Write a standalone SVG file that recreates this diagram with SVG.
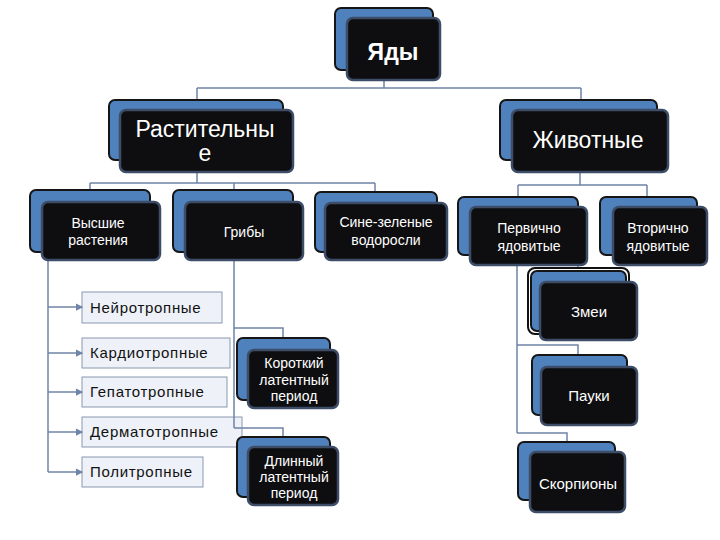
<svg xmlns="http://www.w3.org/2000/svg" width="720" height="540" viewBox="0 0 720 540">
<defs>
<marker id="arr" viewBox="0 0 6 6" refX="5" refY="3" markerWidth="5" markerHeight="5" orient="auto">
<path d="M0,0 L6,3 L0,6 z" fill="#6f84a6"/>
</marker>
<style>
.back{fill:#4f81bd;stroke:#151515;stroke-width:2}
.front{fill:#0e0e10;stroke:#3d4d68;stroke-width:2.5}
.t{fill:#ffffff;font-family:"Liberation Sans",Arial,sans-serif;text-anchor:middle}
.lb{fill:#eef2f8;stroke:#8a98b0;stroke-width:1}
.lt{fill:#111111;font-family:"Liberation Sans",Arial,sans-serif;font-size:15px;letter-spacing:0.7px}
.c{fill:none;stroke:#6f84a6;stroke-width:1.5}
</style>
</defs>
<rect width="720" height="540" fill="#ffffff"/>
<g id="n-neiro">
<rect class="lb" x="82" y="292" width="140" height="31"/>
<text class="lt" x="90" y="313">Нейротропные</text>
</g>
<g id="n-kardio">
<rect class="lb" x="82" y="338" width="148" height="30"/>
<text class="lt" x="90" y="358">Кардиотропные</text>
</g>
<g id="n-gepato">
<rect class="lb" x="82" y="377" width="145" height="30"/>
<text class="lt" x="90" y="397">Гепатотропные</text>
</g>
<g id="n-dermato">
<rect class="lb" x="82" y="417" width="160" height="30"/>
<text class="lt" x="90" y="437">Дерматотропные</text>
</g>
<g id="n-poli">
<rect class="lb" x="82" y="457" width="121" height="30"/>
<text class="lt" x="90" y="477">Политропные</text>
</g>
<g id="connectors">
<path class="c" d="M384,80 V88 M197,88 H581 M197,88 V100 M581,88 V100"/>
<path class="c" d="M197,172 V183 M90,183 H375 M90,183 V190 M234,183 V190 M375,183 V192"/>
<path class="c" d="M580,172 V185 M518,185 H647 M518,185 V197 M647,185 V197"/>
<path class="c" d="M48,260 V472"/>
<path class="c" marker-end="url(#arr)" d="M48,307 H82"/>
<path class="c" marker-end="url(#arr)" d="M48,353 H82"/>
<path class="c" marker-end="url(#arr)" d="M48,392 H82"/>
<path class="c" marker-end="url(#arr)" d="M48,432 H82"/>
<path class="c" marker-end="url(#arr)" d="M48,472 H82"/>
<path class="c" d="M234,260 V428 M234,328 H283 V338 M234,428 H283 V437"/>
<path class="c" d="M517,255 V433 M517,258 H578 V270 M517,345 H578 V355 M517,433 H567 V442"/>
</g>
<g id="n-yady">
<rect class="back" x="335" y="8" width="98" height="62" rx="6"/>
<rect class="front" x="347" y="18" width="93" height="62" rx="6"/>
<text class="t" x="393" y="60" font-size="23" font-weight="bold">Яды</text>
</g>
<g id="n-rast">
<rect class="back" x="109" y="100" width="174" height="60" rx="6"/>
<rect class="front" x="120" y="110" width="173" height="62" rx="6"/>
<text class="t" x="205" y="137" font-size="23">Растительны</text>
<text class="t" x="205" y="161" font-size="23">е</text>
</g>
<g id="n-zhiv">
<rect class="back" x="500" y="100" width="157" height="60" rx="6"/>
<rect class="front" x="512" y="110" width="156" height="62" rx="6"/>
<text class="t" x="588" y="148" font-size="23">Животные</text>
</g>
<g id="n-vysshie">
<rect class="back" x="30" y="190" width="120" height="62" rx="6"/>
<rect class="front" x="42" y="202" width="118" height="58" rx="6"/>
<text class="t" x="98" y="228" font-size="14">Высшие</text>
<text class="t" x="98" y="245" font-size="14">растения</text>
</g>
<g id="n-griby">
<rect class="back" x="173" y="190" width="120" height="62" rx="6"/>
<rect class="front" x="185" y="202" width="118" height="58" rx="6"/>
<text class="t" x="244" y="237" font-size="14">Грибы</text>
</g>
<g id="n-sine">
<rect class="back" x="315" y="192" width="122" height="60" rx="6"/>
<rect class="front" x="325" y="203" width="122" height="57" rx="6"/>
<text class="t" x="386" y="227" font-size="14">Сине-зеленые</text>
<text class="t" x="386" y="245" font-size="14">водоросли</text>
</g>
<g id="n-perv">
<rect class="back" x="458" y="197" width="120" height="58" rx="6"/>
<rect class="front" x="470" y="207" width="117" height="58" rx="6"/>
<text class="t" x="529" y="233" font-size="14">Первично</text>
<text class="t" x="529" y="251" font-size="14">ядовитые</text>
</g>
<g id="n-vtor">
<rect class="back" x="600" y="197" width="97" height="58" rx="6"/>
<rect class="front" x="613" y="207" width="94" height="58" rx="6"/>
<text class="t" x="658" y="233" font-size="14">Вторично</text>
<text class="t" x="658" y="251" font-size="14">ядовитые</text>
</g>
<g id="n-korot">
<rect class="back" x="237" y="338" width="93" height="62" rx="6"/>
<rect class="front" x="248" y="350" width="90" height="58" rx="6"/>
<text class="t" x="294" y="368" font-size="14">Короткий</text>
<text class="t" x="294" y="385" font-size="14">латентный</text>
<text class="t" x="294" y="401" font-size="14">период</text>
</g>
<g id="n-dlin">
<rect class="back" x="237" y="437" width="93" height="60" rx="6"/>
<rect class="front" x="248" y="447" width="90" height="58" rx="6"/>
<text class="t" x="294" y="466" font-size="14">Длинный</text>
<text class="t" x="294" y="482" font-size="14">латентный</text>
<text class="t" x="294" y="498" font-size="14">период</text>
</g>
<g id="n-zmei">
<rect x="528" y="268" width="101" height="66" rx="7" fill="#ffffff" stroke="#111111" stroke-width="2"/>
<rect class="back" x="531" y="271" width="95" height="60" rx="6"/>
<rect class="front" x="540" y="282" width="97" height="58" rx="6"/>
<text class="t" x="589" y="317" font-size="15">Змеи</text>
</g>
<g id="n-pauki">
<rect class="back" x="532" y="355" width="95" height="60" rx="6"/>
<rect class="front" x="541" y="367" width="96" height="58" rx="6"/>
<text class="t" x="589" y="401" font-size="15">Пауки</text>
</g>
<g id="n-skorp">
<rect class="back" x="518" y="442" width="97" height="58" rx="6"/>
<rect class="front" x="530" y="452" width="95" height="60" rx="6"/>
<text class="t" x="578" y="489" font-size="15">Скорпионы</text>
</g>
</svg>
